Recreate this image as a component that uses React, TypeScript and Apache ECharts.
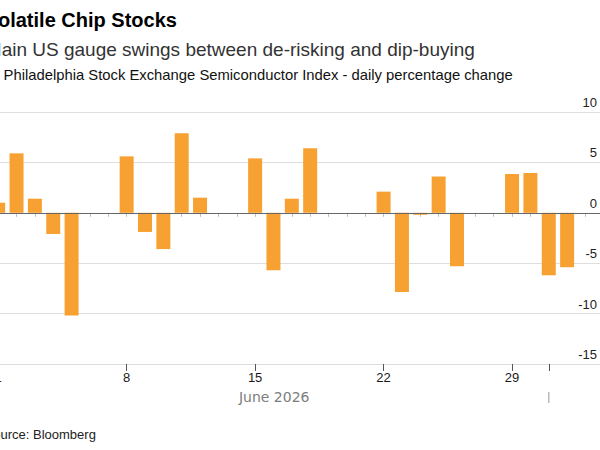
import React, { useEffect, useRef } from "react";
import * as echarts from "echarts";

const categories = [
  "Jun 1", "Jun 2", "Jun 3", "Jun 4", "Jun 5", "Jun 6", "Jun 7",
  "Jun 8", "Jun 9", "Jun 10", "Jun 11", "Jun 12", "Jun 13", "Jun 14",
  "Jun 15", "Jun 16", "Jun 17", "Jun 18", "Jun 19", "Jun 20", "Jun 21",
  "Jun 22", "Jun 23", "Jun 24", "Jun 25", "Jun 26", "Jun 27", "Jun 28",
  "Jun 29", "Jun 30", "Jul 1", "Jul 2", "Jul 3", "Jul 4",
];

// daily % change of the Philadelphia Semiconductor Index (null = no trading)
const dailyChange: (number | null)[] = [
  1.0, 5.9, 1.4, -2.1, -10.2, null, null,
  5.6, -1.9, -3.6, 7.9, 1.5, null, null,
  5.4, -5.7, 1.4, 6.4, null, null, null,
  2.1, -7.85, -0.2, 3.6, -5.3, null, null,
  3.85, 3.95, -6.2, -5.4, null, null,
];

const labelDays = ["Jun 1", "Jun 8", "Jun 15", "Jun 22", "Jun 29"];
const majorTickDays = ["Jun 1", "Jun 8", "Jun 15", "Jun 22", "Jun 29", "Jul 1"];
const monthBoundary = "Jul 1";

const titleText = "Volatile Chip Stocks";
const subtitleText = "Main US gauge swings between de-risking and dip-buying";
const legendText = "Philadelphia Stock Exchange Semiconductor Index - daily percentage change";
const sourceText = "Source: Bloomberg";
const monthLabel = "June 2026";

const FONT = '"Liberation Sans", Arial, sans-serif';
const ORANGE = "#F7A133";

// the reference is a crop: the chart canvas starts left of the visible page
const SHIFT = 10.6;
const CANVAS_W = 624;

export default function App() {
  const ref = useRef<HTMLDivElement>(null);

  useEffect(() => {
    if (!ref.current) return;
    const chart = echarts.init(ref.current, null, { renderer: "svg" });

    const option: any = {
      animation: false,
      backgroundColor: "#ffffff",
      grid: { left: 0, right: 0, top: 112, bottom: 86, containLabel: false },
      xAxis: [
        {
          type: "category",
          data: categories,
          position: "bottom",
          axisLine: { show: true, lineStyle: { color: "#d6d6d6", width: 1 } },
          axisTick: {
            show: true,
            alignWithLabel: true,
            interval: 0,
            length: 4,
            lineStyle: { color: "#bdbdbd" },
          },
          axisLabel: {
            show: true,
            interval: (_i: number, v: string) => labelDays.includes(v),
            formatter: (v: string) => v.split(" ")[1],
            fontFamily: FONT,
            fontSize: 13,
            color: "#1a1a1a",
            margin: 7,
          },
          splitLine: { show: false },
        },
        {
          type: "category",
          data: categories,
          position: "bottom",
          axisLine: { show: false },
          axisTick: {
            show: true,
            alignWithLabel: true,
            interval: (_i: number, v: string) => majorTickDays.includes(v),
            length: 7,
            lineStyle: { color: "#555" },
          },
          axisLabel: { show: false },
          splitLine: { show: false },
        },
      ],
      yAxis: {
        type: "value",
        position: "right",
        min: -15,
        max: 10,
        interval: 5,
        axisLine: { show: false },
        axisTick: { show: false },
        splitLine: { show: true, lineStyle: { color: "#dedede", width: 1 } },
        axisLabel: {
          inside: true,
          margin: 16,
          fontFamily: FONT,
          fontSize: 13,
          color: "#222",
          verticalAlign: "bottom",
          padding: [0, 0, 3, 0],
        },
      },
      series: [
        {
          type: "bar",
          data: dailyChange,
          barWidth: 14,
          itemStyle: { color: ORANGE },
          markLine: {
            silent: true,
            symbol: "none",
            label: { show: false },
            lineStyle: { color: "#666", width: 1, type: "solid" },
            data: [{ yAxis: 0 }],
          },
        },
      ],
    };

    chart.setOption(option);

    const xBoundary = chart.convertToPixel({ xAxisIndex: 0 }, monthBoundary) as number;
    const axisY = chart.convertToPixel({ yAxisIndex: 0 }, -15) as number;

    chart.setOption({
      graphic: [
        {
          type: "text",
          x: SHIFT - 13.5,
          y: 20,
          style: { text: titleText, fill: "#000", font: `bold 20px ${FONT}`, verticalAlign: "middle" },
        },
        {
          type: "text",
          x: SHIFT - 13.8,
          y: 49,
          style: { text: subtitleText, fill: "#333", font: `19px ${FONT}`, verticalAlign: "middle" },
        },
        {
          type: "rect",
          shape: { x: SHIFT - 13, y: 69, width: 11, height: 11 },
          style: { fill: ORANGE },
        },
        {
          type: "text",
          x: SHIFT + 4,
          y: 75,
          style: { text: legendText, fill: "#111", font: `14.8px ${FONT}`, verticalAlign: "middle" },
        },
        {
          type: "text",
          x: (SHIFT + xBoundary) / 2,
          y: axisY + 33,
          style: {
            text: monthLabel,
            fill: "#7d7d7d",
            font: `14px "DejaVu Sans", sans-serif`,
            align: "center",
            verticalAlign: "middle",
          },
        },
        {
          type: "line",
          shape: { x1: xBoundary, y1: axisY + 28, x2: xBoundary, y2: axisY + 39 },
          style: { stroke: "#bbbbbb", lineWidth: 1.5 },
        },
        {
          type: "text",
          x: SHIFT - 15,
          y: 434,
          style: { text: sourceText, fill: "#222", font: `13px ${FONT}`, verticalAlign: "middle" },
        },
      ],
    });

    return () => chart.dispose();
  }, []);

  return (
    <div style={{ position: "fixed", left: 0, top: 0, width: 600, height: 450, overflow: "hidden", background: "#fff" }}>
      <div
        ref={ref}
        style={{ position: "absolute", left: -SHIFT, top: 0, width: CANVAS_W, height: 450 }}
      />
    </div>
  );
}
